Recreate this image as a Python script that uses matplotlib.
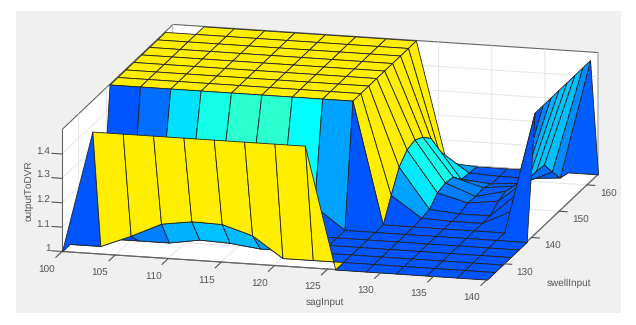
import numpy as np
import matplotlib
matplotlib.use("Agg")
import matplotlib.pyplot as plt
from matplotlib.colors import LinearSegmentedColormap, Normalize
from matplotlib.patches import Rectangle
from mpl_toolkits.mplot3d import proj3d
from mpl_toolkits.mplot3d.art3d import Poly3DCollection

# ---- data -------------------------------------------------------------
sag_input = np.linspace(100, 140, 15)
swell_input = np.linspace(124, 164, 15)
H = 1.5
row00 = [1, H, H, H, H, H, H, H, H, 1, 1, 1, 1, 1, 1]
row01 = [1, 1, 1.05, 1.108, 1.126, 1.123, 1.085, 1, 1, 1, 1, 1, 1, 1, 1]
row02 = [1, 1, 1, 1, 1.02, 1.015, 1, 1, 1, 1, 1, 1, 1, 1, 1]
row03 = [1, 1, 1, 1, 1, 1, 1, 1, 1, 1, 1, 1, 1, 1, 1]
row04 = [1, 1, 1, 1, 1, 1, 1, 1, 1, 1, 1, 1, 1, 1, 1]
row05 = [1, 1.03, 1.165, 1.225, 1.25, 1.25, 1.2, 1.09, 1, 1, 1, 1, 1, 1, 1]
row06 = [H, H, H, H, H, H, H, H, H, 1, 1, 1, 1, 1, H]
row07 = [H, H, H, H, H, H, H, H, H, 1.09, 1.005, 1, 1, 1.06, H]
row08 = [H, H, H, H, H, H, H, H, H, 1.175, 1.01, 1, 1, 1.11, H]
row09 = [H, H, H, H, H, H, H, H, H, 1.215, 1.047, 1.014, 1.03, 1.13, H]
row10 = [H, H, H, H, H, H, H, H, H, 1.225, 1.057, 1.01, 1.04, 1.13, H]
row11 = [H, H, H, H, H, H, H, H, H, 1.205, 1.05, 1.015, 1.03, 1.125, H]
row12 = [H, H, H, H, H, H, H, H, H, 1.17, 1.01, 1, 1.01, 1.065, H]
row13 = [H, H, H, H, H, H, H, H, H, 1.09, 1.005, 1, 1, 1.01, H]
row14 = [np.nan, H, H, H, H, H, H, H, H, 1.01, 1, 1, 1, 1, 1]
output = np.array([row00, row01, row02, row03, row04, row05, row06, row07,
                   row08, row09, row10, row11, row12, row13, row14])
x_ticks = [100, 105, 110, 115, 120, 125, 130, 135, 140]
y_ticks = [130, 140, 150, 160]
z_ticks = [1, 1.1, 1.2, 1.3, 1.4]
z_tick_labels = ['1', '1.1', '1.2', '1.3', '1.4']

# ---- style ------------------------------------------------------------
W, H_px = 636, 325
plt.rcParams['font.family'] = ['Liberation Sans', 'DejaVu Sans']
plt.rcParams['text.hinting'] = 'no_hinting'
plt.rcParams['text.hinting_factor'] = 1
plt.rcParams['grid.color'] = '#e4e4e4'
plt.rcParams['grid.linewidth'] = 0.7
TXT = '#555555'
fig = plt.figure(figsize=(W / 100, H_px / 100), dpi=100, facecolor='white')
fig.patches.append(Rectangle((16 / W, 1 - 313 / H_px), 605 / W, 302 / H_px,
                             transform=fig.transFigure, fc='#f0f0f0', ec='none', zorder=-5))

ax = fig.add_axes([0, 0, 1, 1], projection='3d', computed_zorder=False)
ax.patch.set_alpha(0)
ax.set_proj_type('ortho')
ax.view_init(elev=14.5, azim=-75.2)
ax.set_box_aspect((440, 435, 126))
ax.set_xlim(100, 140, view_margin=0)
ax.set_ylim(124, 164, view_margin=0)
ax.set_zlim(1, 1.5, view_margin=0)

cmap = LinearSegmentedColormap.from_list('dvr', [
    (0.0, (0, 85 / 255, 1)),
    (0.2 / 0.5, (0, 1, 1)),
    (0.25 / 0.5, (40 / 255, 1, 210 / 255)),
    (1.0, (1, 238 / 255, 0))])
norm = Normalize(1, 1.5)

order = 10
for j in range(13, -1, -1):
    for i in range(14):
        cz = [output[j, i], output[j, i + 1], output[j + 1, i + 1], output[j + 1, i]]
        if np.isnan(cz).any():
            continue
        verts = [[(sag_input[i], swell_input[j], cz[0]),
                  (sag_input[i + 1], swell_input[j], cz[1]),
                  (sag_input[i + 1], swell_input[j + 1], cz[2]),
                  (sag_input[i], swell_input[j + 1], cz[3])]]
        poly = Poly3DCollection(verts, facecolors=[cmap(norm(cz[0]))],
                                edgecolors='#222222', linewidths=0.6)
        poly.set_zorder(order)
        order += 1
        ax.add_collection3d(poly, autolim=False)

ax.set_xticks(x_ticks)
ax.set_yticks(y_ticks)
ax.set_zticks(z_ticks)
ax.set_zticklabels(z_tick_labels)
ax.zaxis.set_ticks_position('lower')
ax.tick_params(axis='x', labelsize=7, colors=TXT, pad=6)
ax.tick_params(axis='y', labelsize=7, colors=TXT, pad=-1)
ax.tick_params(axis='z', labelsize=7, colors=TXT, pad=-3)
for t in ax.get_xticklabels():
    t.set_ha('right')
for t in ax.get_yticklabels():
    t.set_ha('left')
for t in ax.get_zticklabels():
    t.set_ha('right')
    t.set_va('bottom')
for axis in (ax.xaxis, ax.yaxis, ax.zaxis):
    axis.set_pane_color((1, 1, 1, 1))
    axis.pane.set_edgecolor('#666666')
    axis.pane.set_linewidth(0.8)
    axis.line.set_color('#666666')
    axis.line.set_linewidth(0.8)
    axis._axinfo['tick']['inward_factor'] = 0.0
    axis._axinfo['tick']['outward_factor'] = 0.0

# Outward tick marks, in data units, lying in the floor plane as in the reference.
TICK_KW = dict(color='#555555', linewidth=0.8, zorder=400)
for xv in x_ticks:
    ax.plot([xv, xv], [124, 121.8], [1, 1], **TICK_KW)
for yv in y_ticks:
    ax.plot([140, 140.75], [yv, yv], [1, 1], **TICK_KW)
for zv in z_ticks:
    ax.plot([100, 99.05], [124, 124], [zv, zv], **TICK_KW)


def to_px(x, y, z):
    X, Y, _ = proj3d.proj_transform(x, y, z, ax.get_proj())
    return ax.transData.transform((X, Y))


# Place the axes box so its corners land where the reference has them.
size, cx, cy = 500.0, W / 2, H_px / 2
for _ in range(4):
    ax.set_position([(cx - size / 2) / W, (cy - size / 2) / H_px, size / W, size / H_px])
    ax.apply_aspect()
    fig.canvas.draw()
    a = to_px(100, 124, 1)
    b = to_px(140, 164, 1.5)
    size *= (598 - 62) / (b[0] - a[0])
    cx += (62 + 598) / 2 - (a[0] + b[0]) / 2
    cy += ((H_px - 252) + (H_px - 52)) / 2 - (a[1] + b[1]) / 2
ax.set_position([(cx - size / 2) / W, (cy - size / 2) / H_px, size / W, size / H_px])

fig.text(325 / W, 1 - 302 / H_px, 'sagInput', ha='center', va='center', fontsize=7, color=TXT)
fig.text(569 / W, 1 - 283 / H_px, 'swellInput', ha='center', va='center', fontsize=7, color=TXT)
fig.text(29 / W, 1 - 191 / H_px, 'outputToDVR', ha='center', va='center', rotation=90,
         fontsize=7, color=TXT)

fig.savefig('out.png', dpi=100, facecolor='white')
